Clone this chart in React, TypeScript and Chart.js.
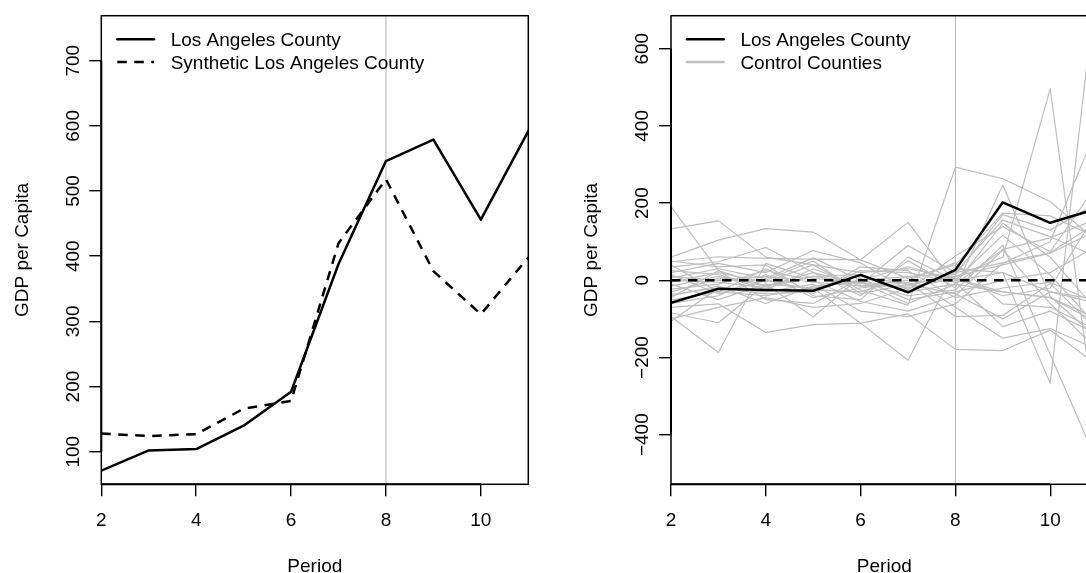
import { useEffect, useRef } from "react";
import { Chart, registerables } from "chart.js";

Chart.register(...registerables);

// ---------- data ----------
const periods = [2, 3, 4, 5, 6, 7, 8, 9, 10, 11];
const treatmentPeriod = 8;

// left panel: GDP per capita
const laGdp = [71, 102, 104, 140, 192, 388, 546, 579, 456, 592];
const syntheticGdp = [128, 124, 127, 166, 178, 420, 518, 377, 311, 398];

// right panel: gaps (actual - synthetic)
const laGap = [-58, -22, -25, -27, 14, -31, 27, 202, 149, 186];
const zeroLine = [0, 0, 0, 0, 0, 0, 0, 0, 0, 0];
const controlGaps: number[][] = [
  [191, 25, -15, 10, -5, -20, 10, 40, 70, 130],
  [133, 154, 60, 40, 20, 30, 5, -30, -45, -100],
  [60, 104, 134, 125, 53, 150, -10, 80, 110, 160],
  [48, 61, 57, 55, 53, 5, 40, 174, 167, 110],
  [34, 48, 85, 20, -10, 90, 20, 156, 113, 60],
  [20, 44, 20, 77, 45, -25, 63, 139, 74, 250],
  [6, 30, 5, 58, 0, 35, 0, 117, 14, -120],
  [-5, 20, -5, 40, -25, -65, 293, 263, 204, 100],
  [-15, 10, -15, 20, -40, 51, -20, 247, -42, -150],
  [-23, -10, 25, 0, -55, -80, -40, 79, -60, -180],
  [-37, -20, -30, -10, -80, -94, -61, 44, 100, 400],
  [-51, -30, -40, -20, -111, -207, 30, 20, -267, 800],
  [-60, -40, 15, -45, -20, -5, -94, -91, -8, -130],
  [-70, -61, -135, -115, -111, -87, -179, -182, -129, -220],
  [-84, -110, -10, -95, 10, -10, 10, 60, 496, -400],
  [-94, -187, 44, 5, -5, -40, -25, 91, -192, -474],
  [-106, -20, -35, -30, 25, 20, -5, -120, -80, -140],
  [10, 0, 10, -5, -15, 0, 45, -61, -70, -130],
  [0, -5, -20, 10, 15, -30, -10, -30, -45, -110],
  [-30, 5, 0, -25, -30, 10, 15, 170, 130, 200],
  [-45, 25, -50, -60, 5, -50, -30, 0, 20, 90],
  [40, -30, 30, -35, 35, 25, -45, -20, -5, -60],
  [25, 15, -25, 30, -15, -15, 20, 45, 72, 150],
  [-10, -50, -10, -20, 0, 10, -70, -150, -125, -180],
  [50, 35, 40, -40, -50, 60, 0, 20, -30, -50],
  [-40, -15, -60, -15, -5, -60, -10, 148, 60, -80],
  [-100, -70, -45, -70, -60, -20, 5, -40, -20, 180],
  [15, -35, 0, 50, -35, -10, -35, -100, -30, -60],
];

// ticks / ranges
const xTickValues = [2, 4, 6, 8, 10];
const leftYTicks = [100, 200, 300, 400, 500, 600, 700];
const rightYTicks = [-400, -200, 0, 200, 400, 600];
const xRange = [2, 11];
const leftYRange = [50, 769];
const rightYRange = [-528.5, 685.5];

const xTitle = "Period";
const yTitle = "GDP per Capita";
const leftLegend = ["Los Angeles County", "Synthetic Los Angeles County"];
const rightLegend = ["Los Angeles County", "Control Counties"];

// ---------- styles ----------
const FONT = '19px "Liberation Sans", Arial, Helvetica, sans-serif';
const GREY = "#bebebe";
const DASH = [9.5, 7.5];

type LegendItem = { label: string; color: string; dash: number[]; width: number };

function pts(values: number[]) {
  return periods.map((p, i) => ({ x: p, y: values[i] }));
}

function framePlugin(legend: LegendItem[]) {
  return {
    id: "frame",
    afterDraw(chart: any) {
      const { ctx, chartArea: a, scales } = chart;
      const xs = scales.x;
      const ys = scales.y;
      ctx.save();
      ctx.strokeStyle = "#000";
      ctx.lineWidth = 1.5;
      ctx.setLineDash([]);
      ctx.strokeRect(a.left, a.top, a.right - a.left, a.bottom - a.top);

      // axis lines (first to last tick)
      ctx.lineWidth = 2;
      const xt = xs.ticks.map((t: any) => xs.getPixelForValue(t.value));
      ctx.beginPath();
      ctx.moveTo(xt[0], a.bottom);
      ctx.lineTo(xt[xt.length - 1], a.bottom);
      ctx.stroke();
      const yt = ys.ticks.map((t: any) => ys.getPixelForValue(t.value));
      ctx.beginPath();
      ctx.moveTo(a.left, yt[0]);
      ctx.lineTo(a.left, yt[yt.length - 1]);
      ctx.stroke();

      ctx.fillStyle = "#000";
      ctx.font = FONT;
      ctx.textBaseline = "alphabetic";
      ctx.textAlign = "center";
      // x tick labels
      xs.ticks.forEach((t: any) => {
        ctx.fillText(String(t.value), xs.getPixelForValue(t.value), a.bottom + 41.7);
      });
      // y tick labels (rotated)
      ys.ticks.forEach((t: any) => {
        const py = ys.getPixelForValue(t.value);
        const label = t.value < 0 ? "\u2212" + String(Math.abs(t.value)) : String(t.value);
        ctx.save();
        ctx.translate(a.left - 22.8, py);
        ctx.rotate(-Math.PI / 2);
        ctx.fillText(label, 0, 0);
        ctx.restore();
      });
      // axis titles
      ctx.fillText(xTitle, (a.left + a.right) / 2, 572);
      ctx.save();
      ctx.translate(a.left - 73.8, (a.top + a.bottom) / 2);
      ctx.rotate(-Math.PI / 2);
      ctx.fillText(yTitle, 0, 0);
      ctx.restore();

      // legend
      legend.forEach((item, i) => {
        const y = a.top + 23.6 + i * 22.7;
        ctx.save();
        ctx.strokeStyle = item.color;
        ctx.lineWidth = item.width;
        ctx.setLineDash(item.dash);
        ctx.lineCap = item.dash.length ? "butt" : "round";
        ctx.beginPath();
        ctx.moveTo(a.left + 16, y);
        ctx.lineTo(a.left + 52.7, y);
        ctx.stroke();
        ctx.restore();
        ctx.textAlign = "left";
        ctx.fillText(item.label, a.left + 69.4, y + 6.8);
      });
      ctx.restore();
    },
  };
}

function scalesFor(yRange: number[], yTicks: number[], yWidth: number) {
  const grid = {
    display: true,
    drawOnChartArea: false,
    drawTicks: true,
    tickLength: 12,
    color: "#000",
    lineWidth: 1.4,
  };
  return {
    x: {
      type: "linear",
      min: xRange[0],
      max: xRange[1],
      afterBuildTicks: (s: any) => {
        s.ticks = xTickValues.map((v) => ({ value: v }));
      },
      afterFit: (s: any) => {
        s.height = 88.7;
      },
      ticks: { display: false },
      grid,
      border: { display: false },
    },
    y: {
      type: "linear",
      min: yRange[0],
      max: yRange[1],
      afterBuildTicks: (s: any) => {
        s.ticks = yTicks.map((v) => ({ value: v }));
      },
      afterFit: (s: any) => {
        s.width = yWidth;
      },
      ticks: { display: false },
      grid,
      border: { display: false },
    },
  };
}

const lineBase = {
  pointRadius: 0,
  tension: 0,
  fill: false,
  borderJoinStyle: "round",
  borderCapStyle: "round",
};

function leftConfig(): any {
  return {
    type: "line",
    data: {
      datasets: [
        { ...lineBase, label: leftLegend[1], data: pts(syntheticGdp), borderColor: "#000", borderWidth: 2.5, borderDash: DASH, borderCapStyle: "butt" },
        { ...lineBase, label: leftLegend[0], data: pts(laGdp), borderColor: "#000", borderWidth: 2.5 },
        {
          ...lineBase,
          label: "treatment",
          data: [
            { x: treatmentPeriod, y: leftYRange[0] },
            { x: treatmentPeriod, y: leftYRange[1] },
          ],
          borderColor: GREY,
          borderWidth: 1.2,
        },
      ],
    },
    options: {
      animation: false,
      responsive: false,
      maintainAspectRatio: false,
      events: [],
      layout: { padding: { left: 0, right: 41.7, top: 15.7, bottom: 0 } },
      plugins: { legend: { display: false }, tooltip: { enabled: false } },
      scales: scalesFor(leftYRange, leftYTicks, 101.3),
    },
    plugins: [
      framePlugin([
        { label: leftLegend[0], color: "#000", dash: [], width: 2.5 },
        { label: leftLegend[1], color: "#000", dash: DASH, width: 2.5 },
      ]),
    ],
  };
}

function rightConfig(): any {
  return {
    type: "line",
    data: {
      datasets: [
        { ...lineBase, label: "zero", data: pts(zeroLine), borderColor: "#000", borderWidth: 2.5, borderDash: DASH, borderCapStyle: "butt" },
        { ...lineBase, label: rightLegend[0], data: pts(laGap), borderColor: "#000", borderWidth: 2.5 },
        {
          ...lineBase,
          label: "treatment",
          data: [
            { x: treatmentPeriod, y: rightYRange[0] },
            { x: treatmentPeriod, y: rightYRange[1] },
          ],
          borderColor: GREY,
          borderWidth: 1.2,
        },
        ...controlGaps.map((g, i) => ({
          ...lineBase,
          label: "control " + (i + 1),
          data: pts(g),
          borderColor: GREY,
          borderWidth: 1.2,
        })),
      ],
    },
    options: {
      animation: false,
      responsive: false,
      maintainAspectRatio: false,
      events: [],
      layout: { padding: { left: 0, right: 42.4, top: 15.7, bottom: 0 } },
      plugins: { legend: { display: false }, tooltip: { enabled: false } },
      scales: scalesFor(rightYRange, rightYTicks, 101),
    },
    plugins: [
      framePlugin([
        { label: rightLegend[0], color: "#000", dash: [], width: 2.5 },
        { label: rightLegend[1], color: GREY, dash: [], width: 2.5 },
      ]),
    ],
  };
}

export default function App() {
  const leftRef = useRef<HTMLCanvasElement>(null);
  const rightRef = useRef<HTMLCanvasElement>(null);

  useEffect(() => {
    const charts = [
      new Chart(leftRef.current as HTMLCanvasElement, leftConfig()),
      new Chart(rightRef.current as HTMLCanvasElement, rightConfig()),
    ];
    return () => charts.forEach((c) => c.destroy());
  }, []);

  return (
    <div
      style={{
        position: "fixed",
        left: 0,
        top: 0,
        width: 1086,
        height: 573,
        overflow: "hidden",
        background: "#fff",
      }}
    >
      <canvas
        ref={leftRef}
        width={570}
        height={573}
        style={{ position: "absolute", left: 0, top: 0, width: 570, height: 573 }}
      />
      <canvas
        ref={rightRef}
        width={570}
        height={573}
        style={{ position: "absolute", left: 570, top: 0, width: 570, height: 573 }}
      />
    </div>
  );
}
